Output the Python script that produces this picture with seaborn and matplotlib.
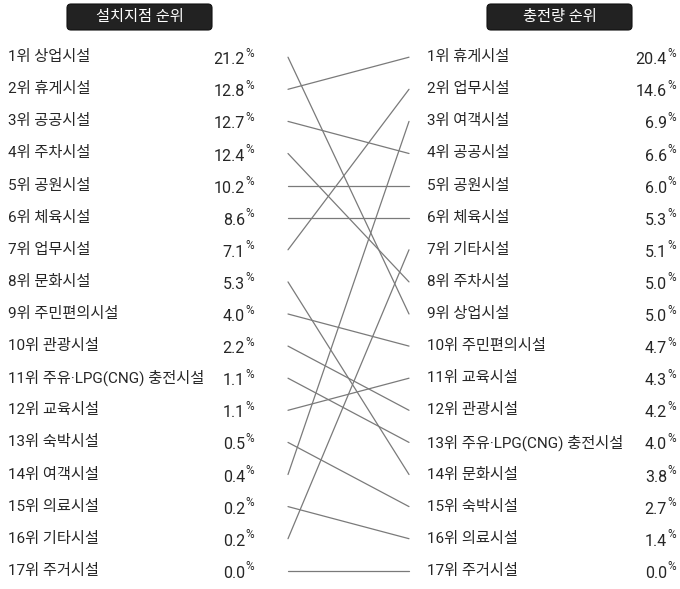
import matplotlib
matplotlib.use("Agg")
import matplotlib.pyplot as plt
import matplotlib.transforms as mtransforms
from matplotlib.patches import FancyBboxPatch
import seaborn as sns
import pandas as pd

# ---- data ----
left_title = "설치지점 순위"
right_title = "충전량 순위"
left_names = ['상업시설', '휴게시설', '공공시설', '주차시설', '공원시설', '체육시설', '업무시설',
              '문화시설', '주민편의시설', '관광시설', '주유·LPG(CNG) 충전시설', '교육시설',
              '숙박시설', '여객시설', '의료시설', '기타시설', '주거시설']
left_vals = [21.2, 12.8, 12.7, 12.4, 10.2, 8.6, 7.1, 5.3, 4.0, 2.2, 1.1, 1.1, 0.5, 0.4, 0.2, 0.2, 0.0]
right_names = ['휴게시설', '업무시설', '여객시설', '공공시설', '공원시설', '체육시설', '기타시설',
               '주차시설', '상업시설', '주민편의시설', '교육시설', '관광시설',
               '주유·LPG(CNG) 충전시설', '문화시설', '숙박시설', '의료시설', '주거시설']
right_vals = [20.4, 14.6, 6.9, 6.6, 6.0, 5.3, 5.1, 5.0, 5.0, 4.7, 4.3, 4.2, 4.0, 3.8, 2.7, 1.4, 0.0]

# ---- layout ----
W, H, DPI = 680, 589, 100
LEFT_LINE_X, RIGHT_LINE_X = 288, 409
ROW0_PX, ROW_STEP = 57.2, 32.1
FONT = ['Roboto', 'Noto Sans CJK KR', 'DejaVu Sans']
TXT = '#262626'

sns.set_theme(style='white')
plt.rcParams['font.family'] = FONT

fig = plt.figure(figsize=(W / DPI, H / DPI), dpi=DPI)
ax = fig.add_axes([0, 0, 1, 1])
top_rank = 1 - ROW0_PX / ROW_STEP
bot_rank = 1 + (H - ROW0_PX) / ROW_STEP

# ---- lines via seaborn ----
rows = []
for i, name in enumerate(left_names):
    rows.append({'name': name, 'x': LEFT_LINE_X, 'rank': i + 1})
    rows.append({'name': name, 'x': RIGHT_LINE_X, 'rank': right_names.index(name) + 1})
df = pd.DataFrame(rows)
sns.lineplot(data=df, x='x', y='rank', units='name', estimator=None, sort=False,
             color='#7a7a7a', linewidth=0.9, ax=ax, legend=False)
ax.set_xlim(0, W)
ax.set_ylim(bot_rank, top_rank)
ax.axis('off')

# ---- text ----
def value_text(x_end, rank, v):
    ax.text(x_end, rank + 0.08, f"{v:.1f}", ha='right', va='center', fontsize=11.5, color=TXT)
    ax.annotate('%', xy=(x_end, rank), xytext=(0.0, 4.0), textcoords='offset pixels',
                ha='left', va='center', fontsize=8.5, color=TXT)

for i, (n, v) in enumerate(zip(left_names, left_vals)):
    ax.text(8, i + 1, f"{i + 1}위 {n}", ha='left', va='center', fontsize=11, color=TXT)
    value_text(245, i + 1, v)

for i, (n, v) in enumerate(zip(right_names, right_vals)):
    ax.text(427, i + 1, f"{i + 1}위 {n}", ha='left', va='center', fontsize=11, color=TXT)
    value_text(667, i + 1, v)

# ---- header boxes (pixel coords, top origin) ----
pix = mtransforms.Affine2D().scale(1, -1).translate(0, H)
for (x0, x1), title in [((67, 212), left_title), ((487, 632), right_title)]:
    box = FancyBboxPatch((x0, 4), x1 - x0, 26, boxstyle='round,pad=0,rounding_size=4',
                         facecolor='#222222', edgecolor='#111111', linewidth=0.8,
                         transform=pix)
    fig.add_artist(box)
    fig.text(((x0 + x1) / 2) / W, 1 - 17 / H, title, ha='center', va='center',
             fontsize=11, color='white')

fig.savefig('out.png', dpi=DPI)
